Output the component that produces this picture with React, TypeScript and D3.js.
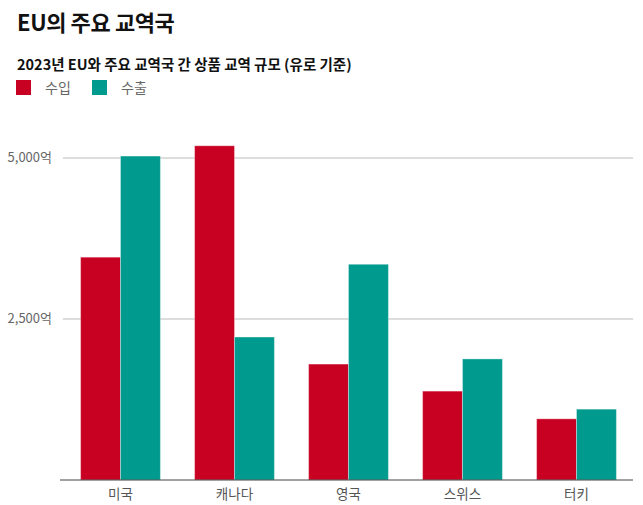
import React from "react";
import * as d3 from "d3";

const categories = ["미국", "캐나다", "영국", "스위스", "터키"];
const seriesNames = ["수입", "수출"];
const imports = [3460, 5190, 1800, 1380, 950];
const exports_ = [5030, 2220, 3350, 1880, 1100];
const yTicks = [2500, 5000];
const colors = ["#c80022", "#009a8e"];

export default function App() {
  const W = 643, H = 505;
  const x0 = d3.scaleBand<string>().domain(categories).range([63.5, 633.5]).paddingInner(0.3).paddingOuter(0.15);
  const x1 = d3.scaleBand<string>().domain(seriesNames).range([0, x0.bandwidth()]);
  const y = d3.scaleLinear().domain([0, 5000]).range([480, 158]);
  const data = [imports, exports_];
  const font = "'Noto Sans CJK KR', 'Noto Sans', sans-serif";
  return (
    <svg width={W} height={H} style={{ position: "absolute", left: 0, top: 0, fontFamily: font }}>
      <rect width={W} height={H} fill="#fff" />
      <text x={17} y={31} fontSize={22} fontWeight={700} fill="#111" letterSpacing={-0.4}>EU의 주요 교역국</text>
      <text x={17} y={70} fontSize={14.5} fontWeight={700} fill="#111" letterSpacing={0}>2023년 EU와 주요 교역국 간 상품 교역 규모 (유로 기준)</text>
      {seriesNames.map((s, i) => (
        <g key={s} transform={`translate(${16 + i * 76},80)`}>
          <rect width={15} height={15} fill={colors[i]} />
          <text x={29} y={13} fontSize={14} fill="#666">{s}</text>
        </g>
      ))}
      {yTicks.map((t) => (
        <g key={t}>
          <line x1={63} x2={633} y1={y(t)} y2={y(t)} stroke="#bbb" strokeWidth={1} />
          <text x={52} y={y(t) + 4} fontSize={13} fill="#666" textAnchor="end">{d3.format(",")(t)}억</text>
        </g>
      ))}
      {categories.map((c, ci) => (
        <g key={c} transform={`translate(${x0(c)},0)`}>
          {seriesNames.map((s, si) => (
            <rect key={s} x={x1(s)} y={y(data[si][ci])} width={x1.bandwidth()} height={480 - y(data[si][ci])}
              fill={colors[si]} stroke="#fff" strokeOpacity={0.35} strokeWidth={1} />
          ))}
          <text x={x0.bandwidth() / 2} y={499} fontSize={13.5} fill="#555" textAnchor="middle">{c}</text>
        </g>
      ))}
      <line x1={60} x2={633} y1={480} y2={480} stroke="#444" strokeWidth={1} />
    </svg>
  );
}
